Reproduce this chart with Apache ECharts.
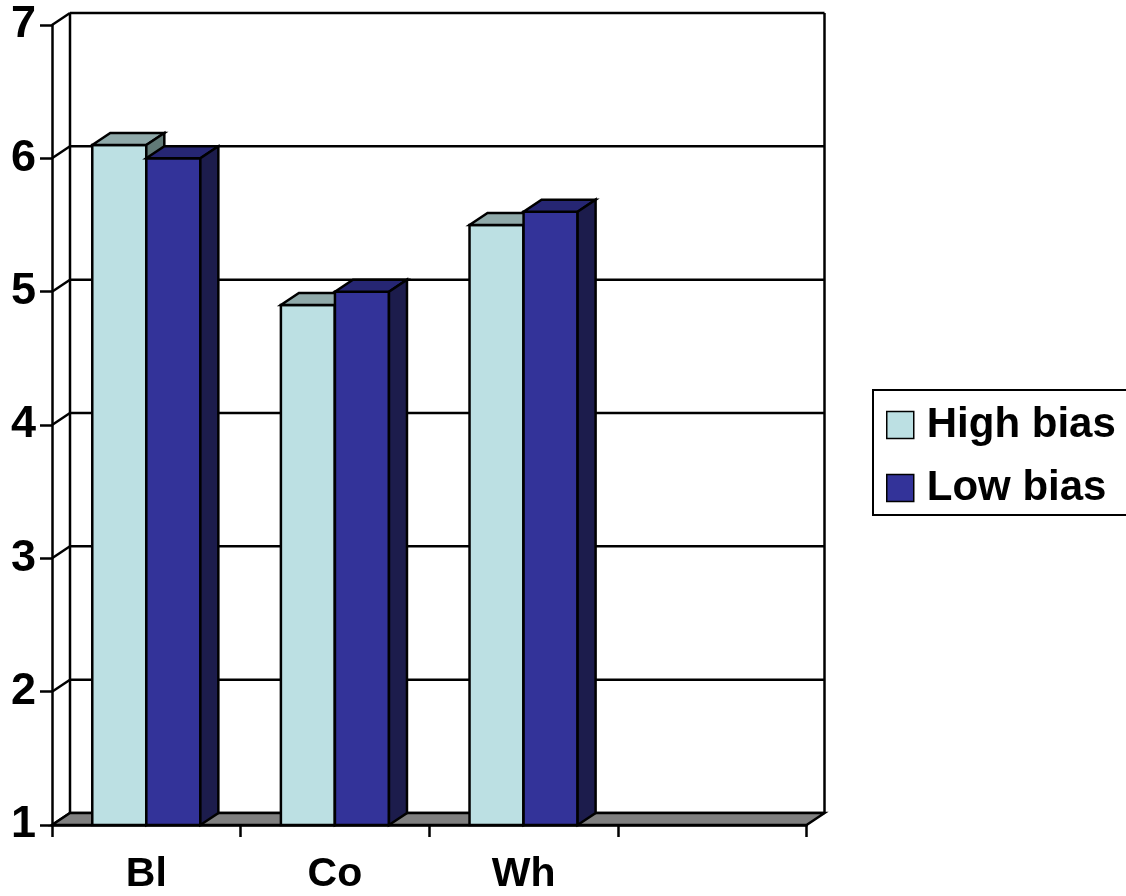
<!DOCTYPE html>
<html>
<head>
<meta charset="utf-8">
<style>
  html, body { margin: 0; padding: 0; background: #ffffff; }
  #chart { width: 1126px; height: 896px; }
</style>
<script src="https://cdn.jsdelivr.net/npm/echarts@6/dist/echarts.min.js"></script>
</head>
<body>
<div id="chart"></div>
<script>
// Categories along the floor (the last slot is left empty)
const categories = ['Bl', 'Co', 'Wh', ''];
// Mean scores per group
const highBias = [6.1, 4.9, 5.5];
const lowBias = [6.0, 5.0, 5.6];
// Value axis ticks
const yTicks = [1, 2, 3, 4, 5, 6, 7];

// Depth offset of the 3-D box (pixels to the back wall)
const DX = 18, DY = -12;
const LW = 2.5;
const FONT = 'Liberation Sans, Arial, Helvetica, sans-serif';

const palette = {
  high: { front: '#BCE0E3', top: '#8FA9A9', side: '#617A77' },
  low:  { front: '#333399', top: '#262673', side: '#1C1C4C' }
};

function barRenderer(slot, colors) {
  return function (params, api) {
    const cat = api.value(0);
    const val = api.value(1);
    const topPt = api.coord([cat, val]);
    const basePt = api.coord([cat, yTicks[0]]);
    const band = api.size([1, 0])[0];
    const w = band * 0.2865;
    const x0 = topPt[0] - w + slot * w;
    const x1 = x0 + w;
    const yt = topPt[1];
    const yb = basePt[1];
    const stroke = { stroke: '#000', lineWidth: LW, lineJoin: 'miter' };
    return {
      type: 'group',
      children: [
        { type: 'rect', shape: { x: x0, y: yt, width: w, height: yb - yt },
          style: Object.assign({ fill: colors.front }, stroke) },
        { type: 'polygon', shape: { points: [[x0, yt], [x1, yt], [x1 + DX, yt + DY], [x0 + DX, yt + DY]] },
          style: Object.assign({ fill: colors.top }, stroke) },
        { type: 'polygon', shape: { points: [[x1, yt], [x1 + DX, yt + DY], [x1 + DX, yb + DY], [x1, yb]] },
          style: Object.assign({ fill: colors.side }, stroke) }
      ]
    };
  };
}

// Back wall, side-wall diagonals and gridlines at each tick value
function wallRenderer(params, api) {
  const cs = params.coordSys;
  const v = api.value(0);
  const y = api.coord([0, v])[1];
  const left = cs.x, right = cs.x + cs.width;
  const yTop = api.coord([0, yTicks[yTicks.length - 1]])[1];
  const yBot = api.coord([0, yTicks[0]])[1];
  const line = { stroke: '#000', lineWidth: LW };
  const children = [
    { type: 'line', shape: { x1: left, y1: y, x2: left + DX, y2: y + DY }, style: line },
    { type: 'line', shape: { x1: left + DX, y1: y + DY, x2: right + DX, y2: y + DY }, style: line }
  ];
  if (params.dataIndex === 0) {
    children.push(
      { type: 'line', shape: { x1: left + DX, y1: yTop + DY, x2: left + DX, y2: yBot + DY }, style: line },
      { type: 'line', shape: { x1: right + DX, y1: yTop + DY, x2: right + DX, y2: yBot + DY }, style: line },
      { type: 'polygon',
        shape: { points: [[left, yBot], [right, yBot], [right + DX, yBot + DY], [left + DX, yBot + DY]] },
        style: { fill: '#808080', stroke: '#000', lineWidth: LW } }
    );
  }
  return { type: 'group', children: children };
}

const chart = echarts.init(document.getElementById('chart'), null, { renderer: 'canvas' });

chart.setOption({
  animation: false,
  backgroundColor: '#ffffff',
  grid: { left: 52, top: 25, right: 319.5, bottom: 71, containLabel: false },
  xAxis: {
    type: 'category',
    data: categories,
    axisLine: { lineStyle: { color: '#000', width: LW } },
    axisTick: { show: true, length: 12, lineStyle: { color: '#000', width: LW } },
    axisLabel: { color: '#000', fontSize: 41, fontWeight: 'bold', fontFamily: FONT, margin: 29 },
    splitLine: { show: false }
  },
  yAxis: {
    type: 'value',
    min: yTicks[0],
    max: yTicks[yTicks.length - 1],
    interval: 1,
    axisLine: { show: true, lineStyle: { color: '#000', width: LW } },
    axisTick: { show: true, length: 12, lineStyle: { color: '#000', width: LW } },
    axisLabel: { color: '#000', fontSize: 45, fontWeight: 'bold', fontFamily: FONT, margin: 16 },
    splitLine: { show: false }
  },
  legend: {
    orient: 'vertical',
    left: 873,
    top: 390,
    data: ['High bias', 'Low bias'],
    backgroundColor: '#ffffff',
    borderColor: '#000',
    borderWidth: 2,
    borderRadius: 0,
    padding: [11, 60, 3, 13],
    itemWidth: 27,
    itemHeight: 27,
    itemGap: 15,
    icon: 'rect',
    itemStyle: { borderColor: '#000', borderWidth: 1.5 },
    textStyle: { color: '#000', fontSize: 42, fontWeight: 'bold', fontFamily: FONT, lineHeight: 48, padding: [0, 0, 0, 8] }
  },
  series: [
    {
      name: 'wall',
      type: 'custom',
      z: 1,
      silent: true,
      renderItem: wallRenderer,
      data: yTicks.map(function (v) { return [v]; }),
      encode: { y: 0 }
    },
    {
      name: 'High bias',
      type: 'custom',
      z: 3,
      itemStyle: { color: palette.high.front },
      renderItem: barRenderer(0, palette.high),
      data: highBias.map(function (v, i) { return [i, v]; }),
      encode: { x: 0, y: 1 }
    },
    {
      name: 'Low bias',
      type: 'custom',
      z: 4,
      itemStyle: { color: palette.low.front },
      renderItem: barRenderer(1, palette.low),
      data: lowBias.map(function (v, i) { return [i, v]; }),
      encode: { x: 0, y: 1 }
    }
  ]
});
</script>
</body>
</html>
